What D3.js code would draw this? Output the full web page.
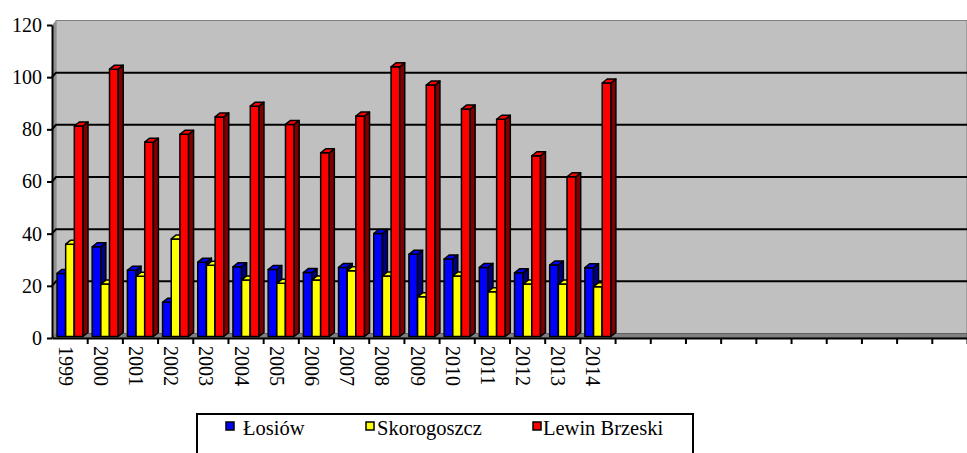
<!DOCTYPE html>
<html>
<head>
<meta charset="utf-8">
<script src="https://cdn.jsdelivr.net/npm/d3@7"></script>
<style>
  body { margin: 0; background: #fff; }
  svg text { font-family: "Liberation Serif", "DejaVu Serif", "Times New Roman", Times, serif !important; fill: #000; }
</style>
</head>
<body>
<div id="chart"></div>
<script>
const years = ['1999', '2000', '2001', '2002', '2003', '2004', '2005', '2006',
  '2007', '2008', '2009', '2010', '2011', '2012', '2013', '2014']
const slotCount = 26
const losiow = [24.2, 34.4, 25.4, 13.1, 28.5, 26.7, 25.7, 24.5, 26.5, 39.5, 31.5, 29.7, 26.5, 24.4, 27.4, 26.4]
const skorogoszcz = [35.4, 20.1, 23.1, 37.4, 27.3, 21.7, 20.4, 21.7, 25.2, 23.2, 15.2, 23.2, 17.2, 20.1, 20.1, 19.1]
const lewinBrzeski = [80.7, 102.5, 74.5, 77.5, 84.2, 88.3, 81.3, 70.4, 84.5, 103.4, 96.4, 87.2, 83.3, 69.3, 61.2, 97.2]
const seriesNames = ['Łosiów', 'Skorogoszcz', 'Lewin Brzeski']
const yTicks = [0, 20, 40, 60, 80, 100, 120]

const width = 967
const height = 453
const plotLeft = 52
const plotRight = 967
const plotTop = 25
const plotBottom = 338
const serif = '"Liberation Serif", "DejaVu Serif", "Times New Roman", serif'

// 3d offsets: back wall and bar depth
const wallDx = 4
const wallDy = -4.5
const barDx = 5
const barDy = -4
const barShift = -1.5

const colors = {
  'Łosiów': { front: '#0000ff', side: '#000080' },
  'Skorogoszcz': { front: '#ffff00', side: '#808000' },
  'Lewin Brzeski': { front: '#ff0000', side: '#800000' }
}

const series = [
  { name: seriesNames[0], values: losiow },
  { name: seriesNames[1], values: skorogoszcz },
  { name: seriesNames[2], values: lewinBrzeski }
]

const svg = d3
  .select('#chart')
  .append('svg')
  .attr('width', width)
  .attr('height', height)
  .style('font-family', serif)

const x = d3.scaleBand().domain(d3.range(slotCount)).range([plotLeft, plotRight])
const xBound = d3.scaleLinear().domain([0, slotCount]).range([plotLeft, plotRight])
const xInner = d3.scaleBand().domain(seriesNames).range([5, 31])
const y = d3.scaleLinear().domain([0, 120]).range([plotBottom, plotTop])

// back wall
svg
  .append('rect')
  .attr('x', plotLeft + wallDx)
  .attr('y', y(120) + wallDy)
  .attr('width', plotRight - plotLeft - wallDx)
  .attr('height', y(0) - y(120))
  .attr('fill', '#c0c0c0')
  .attr('stroke', '#808080')
  .attr('stroke-width', 1)

// side wall
svg
  .append('polygon')
  .attr('points', [
    [plotLeft, y(120)], [plotLeft + wallDx, y(120) + wallDy],
    [plotLeft + wallDx, y(0) + wallDy], [plotLeft, y(0)]
  ].join(' '))
  .attr('fill', '#909090')

// floor
svg
  .append('polygon')
  .attr('points', [
    [plotLeft, y(0)], [plotLeft + wallDx, y(0) + wallDy],
    [plotRight, y(0) + wallDy], [plotRight, y(0)]
  ].join(' '))
  .attr('fill', '#808080')
  .attr('stroke', '#606060')
  .attr('stroke-width', 1)

// gridlines on the wall
const grid = svg.append('g')
yTicks.filter(d => d > 0 && d < 120).forEach(d => {
  grid
    .append('path')
    .attr('d', `M${plotLeft},${y(d)}L${plotLeft + wallDx},${y(d) + wallDy}L${plotRight},${y(d) + wallDy}`)
    .attr('fill', 'none')
    .attr('stroke', '#000')
    .attr('stroke-width', 2)
})

// bars
const bars = svg.append('g')
years.forEach((yr, i) => {
  series.forEach(s => {
    const v = s.values[i]
    const x0 = x(i) + xInner(s.name)
    const x1 = x0 + xInner.bandwidth()
    const t = y(v) + barShift
    const b = y(0) + barShift
    const c = colors[s.name]
    const g = bars.append('g')
      .attr('stroke', '#000')
      .attr('stroke-width', 1.5)
      .attr('stroke-linejoin', 'round')
    g.append('rect')
      .attr('x', x0)
      .attr('y', t)
      .attr('width', x1 - x0)
      .attr('height', b - t)
      .attr('fill', c.front)
    g.append('polygon')
      .attr('points', [[x1, t], [x1 + barDx, t + barDy], [x1 + barDx, b + barDy], [x1, b]].join(' '))
      .attr('fill', c.side)
    g.append('polygon')
      .attr('points', [[x0, t], [x0 + barDx, t + barDy], [x1 + barDx, t + barDy], [x1, t]].join(' '))
      .attr('fill', c.front)
  })
})

// y axis
const yAxis = d3.axisLeft(y).tickValues(yTicks).tickSize(5).tickSizeOuter(0).tickPadding(5)
const yG = svg.append('g').attr('transform', `translate(${plotLeft},0)`).call(yAxis)
yG.attr('font-family', serif).attr('font-size', 20)
yG.selectAll('path, line').attr('stroke', '#000').attr('stroke-width', 2)
yG.selectAll('text').attr('fill', '#000')

// x axis
const xAxis = d3.axisBottom(xBound).tickValues(d3.range(1, slotCount + 1)).tickSize(6).tickSizeOuter(0).tickFormat('')
const xG = svg.append('g').attr('transform', `translate(0,${plotBottom})`).call(xAxis)
xG.selectAll('path, line').attr('stroke', '#000').attr('stroke-width', 2)

svg
  .append('g')
  .selectAll('text')
  .data(years)
  .join('text')
  .attr('transform', (d, i) => `translate(${x(i) + x.bandwidth() / 2 - 4},${plotBottom + 8}) rotate(90)`)
  .attr('dominant-baseline', 'central')
  .attr('font-size', 20)
  .text(d => d)

// legend
const legend = svg.append('g')
legend
  .append('rect')
  .attr('x', 197)
  .attr('y', 414)
  .attr('width', 496)
  .attr('height', 50)
  .attr('fill', '#fff')
  .attr('stroke', '#000')
  .attr('stroke-width', 2)

const legendBox = d3.scaleOrdinal().domain(seriesNames).range([226, 366, 533])
const legendText = d3.scaleOrdinal().domain(seriesNames).range([243, 377, 543])
seriesNames.forEach(name => {
  legend
    .append('rect')
    .attr('x', legendBox(name))
    .attr('y', 422)
    .attr('width', 8)
    .attr('height', 8)
    .attr('fill', colors[name].front)
    .attr('stroke', '#000')
    .attr('stroke-width', 1.5)
  legend
    .append('text')
    .attr('x', legendText(name))
    .attr('y', 435)
    .attr('font-size', 20.5)
    .text(name)
})
</script>
</body>
</html>
